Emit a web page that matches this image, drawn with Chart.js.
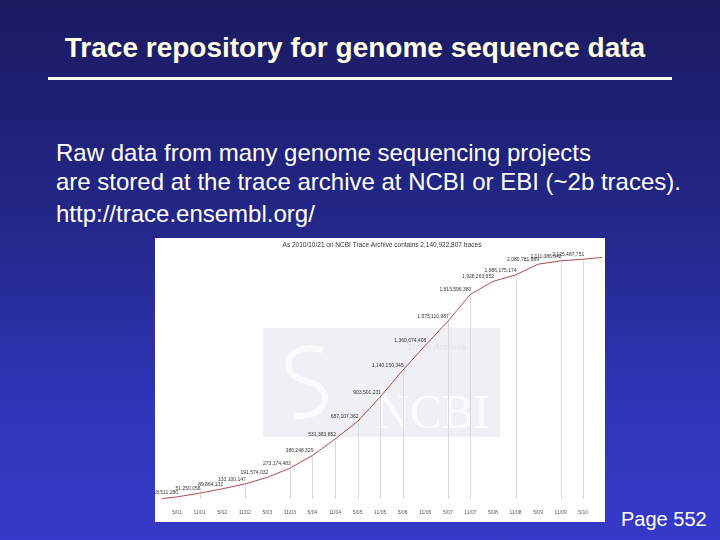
<!DOCTYPE html>
<html>
<head>
<meta charset="utf-8">
<script src="https://cdn.jsdelivr.net/npm/chart.js@4/dist/chart.umd.min.js"></script>
<style>
    body { margin: 0; }
    #slide {
        position: relative; width: 720px; height: 540px; overflow: hidden;
        background: linear-gradient(to bottom, #1b1a60 0%, #232788 40%, #2f35b8 75%, #3639c9 100%);
        font-family: "Liberation Sans", Arial, sans-serif;
    }
    #title {
        position: absolute; left: 0; width: 710px; top: 32px; text-align: center;
        color: #ffffe6; font-weight: bold; font-size: 28px;
    }
    #rule { position: absolute; left: 48px; top: 77px; width: 624px; height: 3px; background: #fffff0; }
    .body { position: absolute; left: 56px; color: #ffffff; font-size: 24px; white-space: nowrap; }
    #page { position: absolute; left: 621px; top: 508px; color: #ffffff; font-size: 20px; }
    #chartBox { position: absolute; left: 155px; top: 238px; width: 450px; height: 284px; background: #ffffff; }
</style>
</head>
<body>
<div id="slide">
    <div id="title">Trace repository for genome sequence data</div>
    <div id="rule"></div>
    <div class="body" style="top:139px">Raw data from many genome sequencing projects</div>
    <div class="body" style="top:168px">are stored at the trace archive at NCBI or EBI (~2b traces).</div>
    <div class="body" style="top:200px">http://trace.ensembl.org/</div>
    <div id="chartBox"><canvas id="traceChart" width="450" height="284"></canvas></div>
    <div id="page">Page 552</div>
</div>
<script>
// months counted from 1/2001
const months = [0, 4, 10, 16, 22, 28, 34, 40, 46, 52, 58, 64, 70, 76, 82, 88, 94, 100, 106, 112, 117];
const traces = [4000000, 18511280, 51250056, 89864132, 133100147, 191574032, 273174483, 386248329,
    531383852, 687107362, 903501231, 1140150345, 1360674408, 1575110987, 1813596380, 1928263652,
    1986175174, 2080781889, 2111086642, 2125487751, 2140922807];
const showValue = [0, 1, 1, 1, 1, 1, 1, 1, 1, 1, 1, 1, 1, 1, 1, 1, 1, 1, 1, 1, 0];
const dropLine = [0, 0, 1, 0, 1, 0, 1, 1, 1, 1, 1, 1, 0, 1, 1, 0, 1, 0, 1, 1, 0];

const tickMonths = [4, 10, 16, 22, 28, 34, 40, 46, 52, 58, 64, 70, 76, 82, 88, 94, 100, 106, 112];
const tickLabels = ['5/01', '11/01', '5/02', '11/02', '5/03', '11/03', '5/04', '11/04', '5/05', '11/05',
    '5/06', '11/06', '5/07', '11/07', '5/08', '11/08', '5/09', '11/09', '5/10'];

const chartTitle = 'As 2010/10/21 on NCBI Trace Archive contains 2,140,922,807 traces';

// faded NCBI logo behind the curve
const watermark = {
    id: 'watermark',
    beforeDatasetsDraw(chart) {
        const ctx = chart.ctx;
        ctx.save();
        ctx.fillStyle = '#eef0f3';
        ctx.fillRect(108, 90, 237, 109);
        ctx.strokeStyle = '#fbfbfc';
        ctx.lineWidth = 6;
        ctx.beginPath();
        ctx.moveTo(168, 112);
        ctx.bezierCurveTo(128, 102, 124, 138, 150, 143);
        ctx.bezierCurveTo(180, 148, 176, 180, 140, 178);
        ctx.stroke();
        ctx.fillStyle = '#fafbfc';
        ctx.font = '48px "Liberation Serif", serif';
        ctx.fillText('NCBI', 220, 190);
        ctx.fillStyle = '#e3e6ea';
        ctx.font = 'italic bold 9px "Liberation Sans", sans-serif';
        ctx.fillText('Trace Archive', 252, 112);
        ctx.restore();

        // drop lines from points to the axis
        const xs = chart.scales.x, ys = chart.scales.y;
        ctx.save();
        ctx.strokeStyle = '#d9d9d9';
        ctx.lineWidth = 1;
        months.forEach((m, i) => {
            if (!dropLine[i]) return;
            const px = Math.round(xs.getPixelForValue(m)) + 0.5;
            ctx.beginPath();
            ctx.moveTo(px, ys.getPixelForValue(traces[i]));
            ctx.lineTo(px, chart.chartArea.bottom);
            ctx.stroke();
        });
        ctx.restore();
    },
    afterDatasetsDraw(chart) {
        const ctx = chart.ctx;
        const xs = chart.scales.x, ys = chart.scales.y;
        ctx.save();
        ctx.fillStyle = '#333333';
        ctx.font = '5px "Liberation Sans", sans-serif';
        ctx.textAlign = 'right';
        ctx.textBaseline = 'bottom';
        months.forEach((m, i) => {
            if (!showValue[i]) return;
            ctx.fillText(traces[i].toLocaleString('en-US'), xs.getPixelForValue(m) + 1, ys.getPixelForValue(traces[i]) - 2);
        });
        ctx.restore();
    }
};

new Chart(document.getElementById('traceChart'), {
    type: 'line',
    data: {
        datasets: [{
            data: months.map((m, i) => ({ x: m, y: traces[i] })),
            borderColor: '#b44a4a',
            borderWidth: 1,
            pointRadius: 0,
            tension: 0
        }]
    },
    options: {
        responsive: false,
        animation: false,
        layout: { padding: { left: 7, right: 3, top: 0, bottom: 3 } },
        plugins: {
            legend: { display: false },
            tooltip: { enabled: false },
            title: {
                display: true,
                text: chartTitle,
                color: '#333333',
                font: { size: 6.5, weight: 'normal', family: '"Liberation Sans", sans-serif' },
                padding: { top: 3, bottom: 2 }
            }
        },
        scales: {
            x: {
                type: 'linear',
                min: 0,
                max: 117,
                afterBuildTicks: axis => { axis.ticks = tickMonths.map(v => ({ value: v })); },
                ticks: {
                    autoSkip: false,
                    maxRotation: 0,
                    padding: 3,
                    color: '#555555',
                    font: { size: 5, family: '"Liberation Sans", sans-serif' },
                    callback: (v, i) => tickLabels[i]
                },
                grid: { display: false },
                border: { display: false }
            },
            y: {
                display: false,
                min: 0,
                max: 2200000000
            }
        }
    },
    plugins: [watermark]
});
</script>
</body>
</html>
